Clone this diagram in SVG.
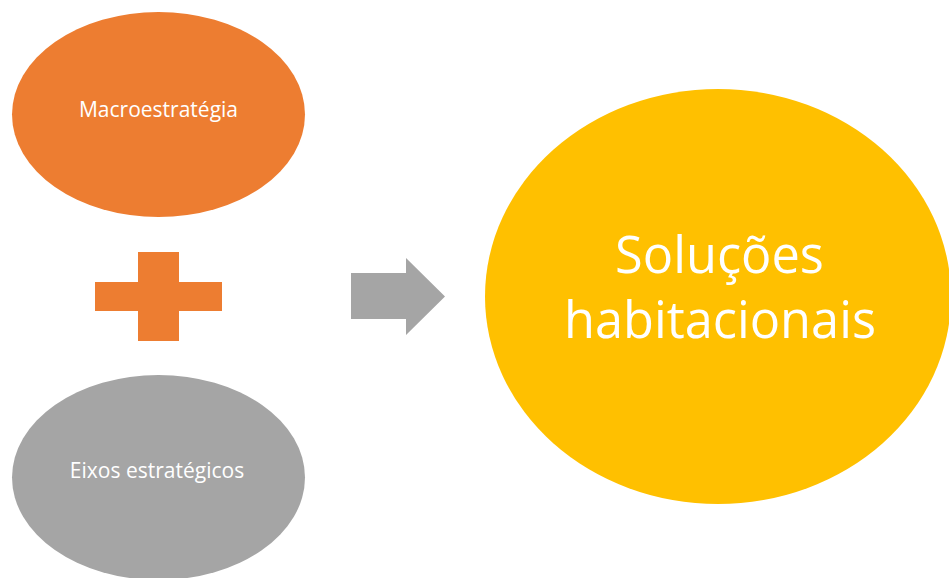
<svg xmlns="http://www.w3.org/2000/svg" width="949" height="578" viewBox="0 0 949 578">
<style>
.lbl{font-family:"Open Sans","Liberation Sans",sans-serif;fill:#FFFFFF;text-anchor:middle}
.small{font-size:21px}
.big{font-size:50.5px}
</style>
<rect width="949" height="578" fill="#FFFFFF"/>
<g id="macroestrategia">
<ellipse cx="158.5" cy="114.5" rx="146.5" ry="102.5" fill="#ED7D31"/>
<text class="lbl small" x="158.5" y="117">Macroestratégia</text>
</g>
<g id="plus">
<path d="M138,252 H179 V282 H222 V311 H179 V341 H138 V311 H95 V282 H138 Z" fill="#ED7D31"/>
</g>
<g id="eixos">
<ellipse cx="158.5" cy="477.5" rx="146.5" ry="102.5" fill="#A5A5A5"/>
<text class="lbl small" x="157" y="478">Eixos estratégicos</text>
</g>
<g id="connectors">
<path d="M351,273 H406 V258 L445,296.5 L406,335 V319 H351 Z" fill="#A5A5A5"/>
</g>
<g id="solucoes">
<ellipse cx="718" cy="296.5" rx="233" ry="207.5" fill="#FFC000"/>
<text class="lbl big" x="719.5" y="273">Soluções</text>
<text class="lbl big" x="720" y="338">habitacionais</text>
</g>
</svg>
